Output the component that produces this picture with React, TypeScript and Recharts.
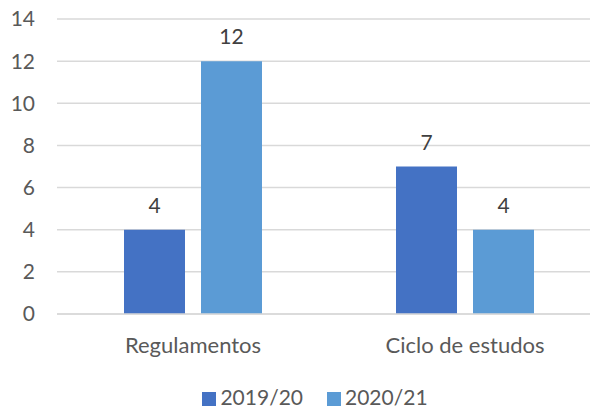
import React from "react";
import { BarChart, Bar, XAxis, YAxis, CartesianGrid, LabelList, Legend } from "recharts";

const categories = ["Regulamentos", "Ciclo de estudos"];
const series2019 = [4, 7];
const series2020 = [12, 4];
const yTicks = [0, 2, 4, 6, 8, 10, 12, 14];

const data = categories.map((name, i) => ({ name, a: series2019[i], b: series2020[i] }));

const FONT = "Lato, sans-serif";
const FS = 21;

const renderLegend = () => (
  <div style={{ width: 592, boxSizing: "border-box", paddingLeft: 38, display: "flex", justifyContent: "center", gap: 24, fontFamily: FONT, fontSize: FS, color: "#595959", lineHeight: "24px" }}>
    {[
      { c: "#4472C4", t: "2019/20" },
      { c: "#5B9BD5", t: "2020/21" },
    ].map((it) => (
      <div key={it.t} style={{ display: "flex", alignItems: "center" }}>
        <span style={{ display: "inline-block", width: 14, height: 14, background: it.c, marginRight: 4, marginTop: 3 }} />
        <span>{it.t}</span>
      </div>
    ))}
  </div>
);

export default function App() {
  return (
    <div style={{ position: "absolute", left: 0, top: 0, background: "#fff" }}>
      <BarChart
        width={592}
        height={406}
        data={data}
        margin={{ top: 19, right: 2, bottom: 38, left: 0 }}
        barSize={61}
        barGap={16}
      >
        <CartesianGrid vertical={false} stroke="#D9D9D9" strokeWidth={1.5} />
        <XAxis
          dataKey="name"
          axisLine={{ stroke: "#D9D9D9", strokeWidth: 1.5 }}
          tickLine={false}
          padding={{ left: 0, right: -11 }}
          tick={{ fill: "#595959", fontSize: 22, fontFamily: FONT }}
          tickMargin={17}
        />
        <YAxis
          domain={[0, 14]}
          ticks={yTicks}
          width={57}
          axisLine={false}
          tickLine={false}
          tickMargin={16}
          tick={{ fill: "#595959", fontSize: FS, fontFamily: FONT }}
        />
        <Legend content={renderLegend} verticalAlign="bottom" height={24} wrapperStyle={{ bottom: -3, left: 0, width: 592 }} />
        <Bar dataKey="a" fill="#4472C4" isAnimationActive={false}>
          <LabelList dataKey="a" position="top" offset={17} fill="#404040" fontSize={FS} fontFamily={FONT} />
        </Bar>
        <Bar dataKey="b" fill="#5B9BD5" isAnimationActive={false}>
          <LabelList dataKey="b" position="top" offset={17} fill="#404040" fontSize={FS} fontFamily={FONT} />
        </Bar>
      </BarChart>
    </div>
  );
}
